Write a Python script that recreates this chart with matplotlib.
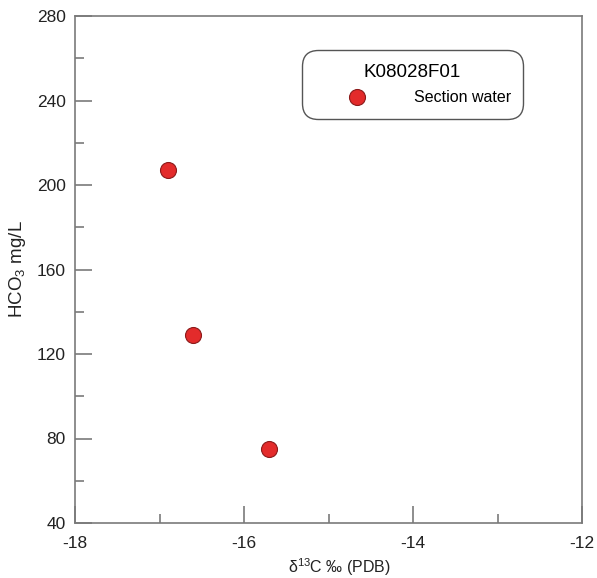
import matplotlib
matplotlib.use("Agg")
import matplotlib.pyplot as plt
from matplotlib.ticker import MultipleLocator

plt.rcParams['font.family'] = ['Liberation Sans', 'DejaVu Sans']
plt.rcParams['mathtext.fontset'] = 'custom'
plt.rcParams['mathtext.rm'] = 'Liberation Sans'
plt.rcParams['mathtext.it'] = 'Liberation Sans:italic'
plt.rcParams['axes.unicode_minus'] = False

# Data
delta13C = [-16.9, -16.6, -15.7]
hco3 = [207, 129, 75]
series_label = "Section water"
legend_title = "K08028F01"

fig = plt.figure(figsize=(5.97, 5.78), dpi=100)
ax = fig.add_axes([75/597, 55/578, (582-75)/597, (523-16)/578])

ax.plot(delta13C, hco3, linestyle='none', marker='o', markersize=11.5,
        markerfacecolor='#E32B2B', markeredgecolor='#8B1A1A', markeredgewidth=0.8,
        label=series_label, zorder=3)

ax.set_xlim(-18, -12)
ax.set_ylim(40, 280)
ax.xaxis.set_major_locator(MultipleLocator(2))
ax.xaxis.set_minor_locator(MultipleLocator(1))
ax.yaxis.set_major_locator(MultipleLocator(40))
ax.yaxis.set_minor_locator(MultipleLocator(20))

spine_col = '#7a7a7a'
for s in ax.spines.values():
    s.set_color(spine_col)
    s.set_linewidth(1.2)
ax.tick_params(which='both', direction='in', top=False, right=False,
               color=spine_col, width=1.2, labelsize=12.5, labelcolor='#222222')
ax.tick_params(which='major', length=12.5)
ax.tick_params(which='minor', length=6.5)
ax.tick_params(axis='x', which='major', pad=9.5)
ax.tick_params(axis='y', which='major', pad=6.5)

ax.set_xlabel(r"δ$^{13}$C ‰ (PDB)", fontsize=11.5, color='#222222')
ax.xaxis.set_label_coords(0.522, -0.066)
ax.set_ylabel(r"HCO$_3$ mg/L", fontsize=13.5, color='#222222')
ax.yaxis.set_label_coords(-0.092, 0.5)

leg = ax.legend(loc='upper left', bbox_to_anchor=(0.447, 0.933, 0.437, 0.0),
                mode='expand', title=legend_title, title_fontsize=13.5,
                fontsize=11.5, numpoints=1, handlelength=5.2, handletextpad=0.99,
                borderpad=0.85, labelspacing=0.6, fancybox=True, framealpha=1,
                edgecolor='#555555', borderaxespad=0)
leg.get_frame().set_boxstyle('round,pad=0,rounding_size=1.0')
leg.get_frame().set_linewidth(1.0)

fig.savefig("out.png", dpi=100)
